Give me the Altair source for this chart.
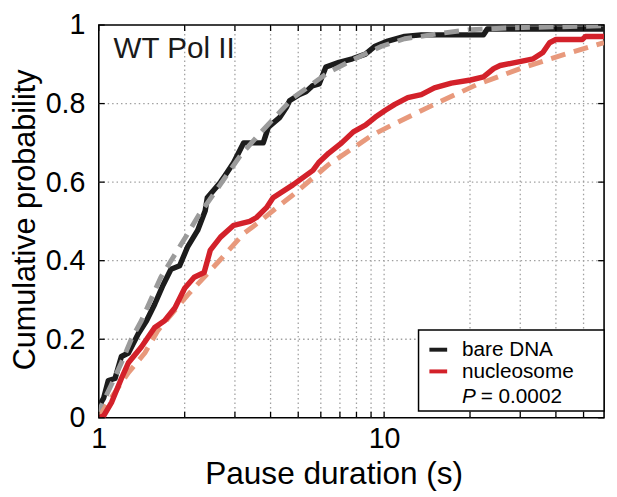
import altair as alt
import pandas as pd

# ---- data ----
bare_x = [1.0, 1.02, 1.04, 1.08, 1.14, 1.2, 1.27, 1.375, 1.47, 1.57, 1.68, 1.79, 1.92, 2.05, 2.22,
          2.36, 2.40, 2.67, 2.77, 2.97, 3.22, 3.77, 3.93, 4.31, 4.54, 4.66, 5.05, 5.32, 5.6, 5.92,
          6.25, 6.95, 7.74, 8.6, 9.3, 10.3, 11.8, 13.5, 22.3, 23.0, 59.0]
bare_y = [0.01, 0.04, 0.05, 0.095, 0.10, 0.156, 0.165, 0.214, 0.247, 0.289, 0.338, 0.378, 0.387, 0.436, 0.477,
          0.527, 0.56, 0.60, 0.617, 0.65, 0.70, 0.70, 0.74, 0.765, 0.79, 0.807, 0.823, 0.83, 0.845, 0.85,
          0.893, 0.905, 0.914, 0.926, 0.946, 0.959, 0.971, 0.975, 0.975, 0.99, 0.99]

bare_fit_x = [1.0, 1.02, 1.11, 1.2, 1.3, 1.41, 1.65, 2.05, 2.25, 2.34, 3.13, 3.67, 4.8, 6.4, 7.9,
              9.8, 11.8, 16.2, 20.0, 27.6, 59.0]
bare_fit_y = [0.0, 0.03, 0.086, 0.14, 0.2, 0.247, 0.358, 0.469, 0.518, 0.535, 0.667, 0.724, 0.815, 0.88, 0.914,
              0.946, 0.965, 0.98, 0.988, 0.993, 0.998]

nuc_x = [1.0, 1.04, 1.11, 1.2, 1.27, 1.41, 1.57, 1.7, 1.85, 2.0, 2.16, 2.34, 2.46, 2.67, 2.97,
         3.38, 3.57, 3.87, 4.08, 4.79, 5.63, 5.9, 6.4, 7.1, 7.8, 8.6, 9.3, 10.1, 10.9, 12.1,
         13.5, 15.0, 17.2, 20.1, 22.3, 24.2, 25.5, 29.0, 33.3, 36.0, 38.0, 40.0, 49.5, 50.8, 59.0]
nuc_y = [0.0, 0.005, 0.04, 0.10, 0.14, 0.18, 0.23, 0.247, 0.28, 0.33, 0.358, 0.37, 0.427, 0.46, 0.49,
         0.50, 0.51, 0.535, 0.56, 0.593, 0.63, 0.65, 0.674, 0.70, 0.728, 0.745, 0.765, 0.783, 0.798, 0.815,
         0.823, 0.84, 0.852, 0.86, 0.868, 0.889, 0.897, 0.905, 0.914, 0.93, 0.955, 0.963, 0.963, 0.971, 0.971]

nuc_fit_x = [1.0, 1.08, 1.27, 1.45, 1.61, 2.05, 2.67, 3.22, 3.67, 4.2, 4.8, 6.4, 9.1, 10.9, 15.0,
             21.1, 30.0, 41.0, 59.0]
nuc_fit_y = [0.0, 0.04, 0.115, 0.165, 0.222, 0.313, 0.403, 0.469, 0.5, 0.535, 0.568, 0.645, 0.72, 0.749, 0.798,
             0.848, 0.889, 0.921, 0.955]

series_names = ["bare DNA", "nucleosome"]
series_colors = ["#1c1c1c", "#d3212a"]
fit_colors = ["#9b9b9b", "#e8997c"]
x_ticks = [1, 2, 3, 4, 5, 6, 7, 8, 9, 10, 20, 30, 40, 50]
x_grid = [2, 3, 4, 5, 6, 7, 8, 9, 10, 20, 30, 40, 50]
y_ticks = [0, 0.2, 0.4, 0.6, 0.8, 1]
y_grid = [0.2, 0.4, 0.6, 0.8]
panel_label = "WT Pol II"
p_rest = "= 0.0002"

FONT = "Liberation Sans"
W, H = 512, 398
xs = alt.Scale(type="log", domain=[1, 59], nice=False)
ys = alt.Scale(domain=[0, 1], nice=False)

one = pd.DataFrame({"a": [0]})

x_axis = alt.Axis(
    values=x_ticks, grid=False, ticks=False, domain=False,
    labelFont=FONT, labelFontSize=29, labelColor="black",
    labelPadding=7, labelFlush=False, labelOverlap=False,
    labelExpr="datum.value == 1 ? '1' : (datum.value == 10 ? '10' : '')",
    title="Pause duration (s)", titleFont=FONT, titleFontSize=32, titleFontWeight="normal",
    titleColor="black", titleX=238, titleY=42, titleBaseline="top", titleAlign="center",
)
y_axis = alt.Axis(
    values=y_ticks, grid=False, ticks=False, domain=False, format="~g",
    labelFont=FONT, labelFontSize=29, labelColor="black",
    labelPadding=14, labelFlush=False, labelOverlap=False,
    title="Cumulative probability", titleFont=FONT, titleFontSize=31, titleFontWeight="normal",
    titleColor="black", titleX=-74, titleY=197, titleBaseline="middle", titleAlign="center",
    titleAngle=270,
)

base_layer = alt.Chart(pd.DataFrame({"x": [1.0, 59.0], "y": [0.0, 1.0]})).mark_point(opacity=0).encode(
    x=alt.X("x:Q", scale=xs, axis=x_axis),
    y=alt.Y("y:Q", scale=ys, axis=y_axis),
)

grid_style = dict(color="#a0a0a0", strokeWidth=1.3, strokeDash=[1.5, 3])
grid_x = alt.Chart(pd.DataFrame({"x": x_grid})).mark_rule(**grid_style).encode(
    x=alt.X("x:Q", scale=xs), y=alt.value(0), y2=alt.value(H))
grid_y = alt.Chart(pd.DataFrame({"y": y_grid})).mark_rule(**grid_style).encode(
    y=alt.Y("y:Q", scale=ys), x=alt.value(0), x2=alt.value(W))


def curve(xv, yv, color, dash=None):
    df = pd.DataFrame({"x": xv, "y": yv})
    kw = dict(color=color, strokeWidth=5, clip=True, strokeJoin="round")
    if dash:
        kw["strokeDash"] = dash
        kw["strokeCap"] = "butt"
    else:
        kw["strokeWidth"] = 5.5
    return alt.Chart(df).mark_line(**kw).encode(
        x=alt.X("x:Q", scale=xs), y=alt.Y("y:Q", scale=ys)
    )


black_line = curve(bare_x, bare_y, series_colors[0])
gray_fit = curve(bare_fit_x, bare_fit_y, fit_colors[0], [15, 9])
salmon_fit = curve(nuc_fit_x, nuc_fit_y, fit_colors[1], [15, 9])
red_line = curve(nuc_x, nuc_y, series_colors[1])

# inward tick marks on all four sides
xt = pd.DataFrame({"x": x_ticks})
yt = pd.DataFrame({"y": y_ticks})
tick_style = dict(color="black", strokeWidth=1.3)
ticks_bottom = alt.Chart(xt).mark_rule(**tick_style).encode(
    x=alt.X("x:Q", scale=xs), y=alt.value(H), y2=alt.value(H - 6))
ticks_top = alt.Chart(xt).mark_rule(**tick_style).encode(
    x=alt.X("x:Q", scale=xs), y=alt.value(0), y2=alt.value(6))
ticks_left = alt.Chart(yt).mark_rule(**tick_style).encode(
    y=alt.Y("y:Q", scale=ys), x=alt.value(0), x2=alt.value(6))
ticks_right = alt.Chart(yt).mark_rule(**tick_style).encode(
    y=alt.Y("y:Q", scale=ys), x=alt.value(W), x2=alt.value(W - 6))

label_text = alt.Chart(one).mark_text(
    text=panel_label, font=FONT, fontSize=30, align="left", baseline="alphabetic", color="#1a1a1a"
).encode(x=alt.value(15), y=alt.value(33))

# legend box
legend_box = alt.Chart(one).mark_rect(fill="white", stroke="black", strokeWidth=1.5).encode(
    x=alt.value(324), x2=alt.value(W), y=alt.value(309), y2=alt.value(391))
leg_line1 = alt.Chart(one).mark_rule(color=series_colors[0], strokeWidth=4).encode(
    x=alt.value(335), x2=alt.value(353), y=alt.value(329))
leg_line2 = alt.Chart(one).mark_rule(color=series_colors[1], strokeWidth=4).encode(
    x=alt.value(335), x2=alt.value(353), y=alt.value(351))
txt_style = dict(font=FONT, fontSize=21, align="left", baseline="alphabetic", color="black")
leg_txt1 = alt.Chart(one).mark_text(text=series_names[0], **txt_style).encode(
    x=alt.value(368), y=alt.value(335))
leg_txt2 = alt.Chart(one).mark_text(text=series_names[1], **txt_style).encode(
    x=alt.value(368), y=alt.value(358))
leg_p = alt.Chart(one).mark_text(text="P", fontStyle="italic", **txt_style).encode(
    x=alt.value(368), y=alt.value(383))
leg_p2 = alt.Chart(one).mark_text(text=p_rest, **txt_style).encode(
    x=alt.value(387), y=alt.value(383))

chart = alt.layer(
    base_layer, grid_x, grid_y, black_line, gray_fit, salmon_fit, red_line,
    ticks_bottom, ticks_top, ticks_left, ticks_right, label_text,
    legend_box, leg_line1, leg_line2, leg_txt1, leg_txt2, leg_p, leg_p2,
).properties(
    width=W, height=H,
    padding={"left": 92, "top": 14, "right": 5, "bottom": 76},
    autosize=alt.AutoSizeParams(type="none"),
    background="white",
).configure_view(stroke="black", strokeWidth=1.6)

chart.save("out.html", embed_options={"renderer": "svg", "actions": False})
